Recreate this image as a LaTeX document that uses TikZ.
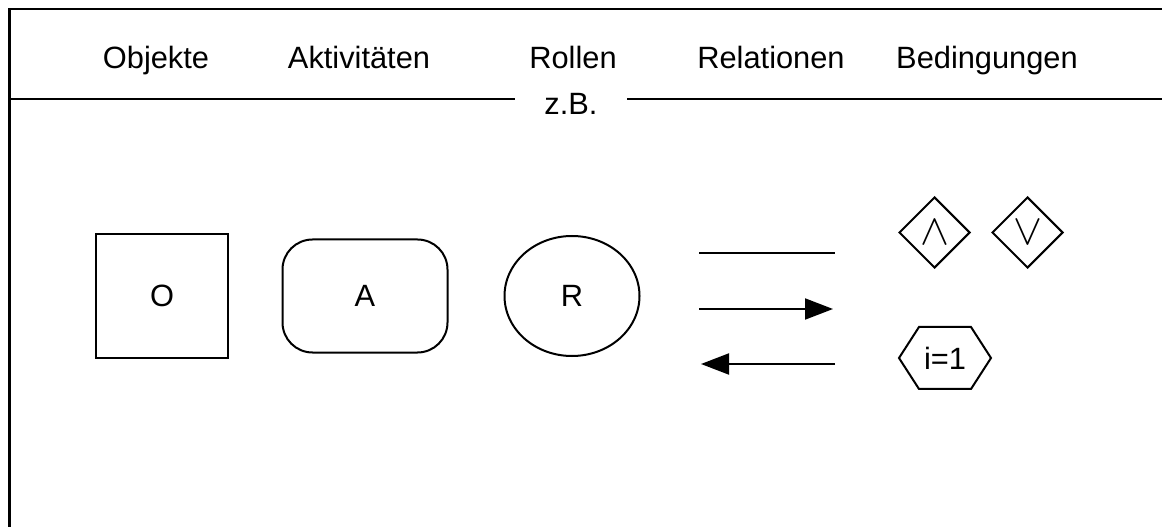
\documentclass[tikz,border=0pt]{standalone}
\usepackage{fontspec}
\setmainfont{Liberation Sans}
\usetikzlibrary{shapes.geometric,arrows.meta}

\begin{document}
\begin{tikzpicture}[x=1bp, y=-1bp, every node/.style={font=\fontsize{30.8bp}{36bp}\selectfont}, head node/.style={anchor=base, inner sep=0pt}, obj node/.style={rectangle, draw, line width=2bp, minimum width=132bp, minimum height=123bp}, act node/.style={rectangle, rounded corners=30bp, draw, line width=2bp, minimum width=165bp, minimum height=113bp}, role node/.style={ellipse, draw, line width=2bp, inner sep=0pt, minimum width=135bp, minimum height=120bp}, cond node/.style={diamond, draw, line width=2bp, inner sep=0pt, minimum width=71bp, minimum height=71bp}]

\useasboundingbox (0,0) rectangle (1162,527);

% frame
\coordinate (f0) at (1162,9);
\coordinate (f1) at (9.5,9);
\coordinate (f2) at (9.5,527);
\draw[line width=2.5bp] (f0) -- (f1) -- (f2);

% headings
\node[head node] (h0) at (156,69) {Objekte};
\node[head node] (h1) at (359,69) {Aktivitäten};
\node[head node] (h2) at (573,69) {Rollen};
\node[head node] (h3) at (771,69) {Relationen};
\node[head node] (h4) at (987,69) {Bedingungen};

\node[anchor=base, inner xsep=29.5bp] (zb) at (571,115) {z.B.};
\coordinate (d0) at (9,99);
\coordinate (d1) at (1162,99);
\draw[line width=2bp] (d0) -- (d0 -| zb.west);
\draw[line width=2bp] (zb.east |- d1) -- (d1);

% examples
\node[obj node] (o) at (162,296) {O};
\node[act node] (a) at (365,296) {A};
\node[role node] (r) at (572,296) {R};

\coordinate (l1a) at (699,253);
\coordinate (l1b) at (835,253);
\coordinate (l2a) at (699,309);
\coordinate (l2b) at (833,309);
\coordinate (l3a) at (835,364);
\coordinate (l3b) at (701,364);

\path[] (l1a) [-, line width=2bp] edge (l1b);
\path[] (l2a) [-{Triangle[length=28bp,width=21bp]}, line width=2bp] edge (l2b);
\path[] (l3a) [-{Triangle[length=28bp,width=21bp]}, line width=2bp] edge (l3b);

\node[cond node] (and) at (934.5,232.5) {\scalebox{1.75}{$\wedge$}};
\node[cond node] (or) at (1027.5,232.5) {\scalebox{1.75}{$\vee$}};

\node[inner sep=0pt] (hex) at (945,358) {i=1};
\draw[line width=2bp] (899,358) -- (919,327) -- (971,327) -- (991,358) -- (971,389) -- (919,389) -- cycle;
\end{tikzpicture}
\end{document}
